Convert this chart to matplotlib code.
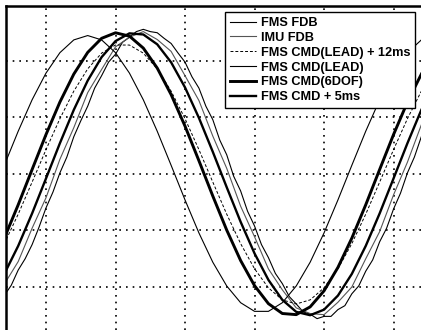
import matplotlib
matplotlib.use("Agg")
import matplotlib.pyplot as plt

# time (ms) for the command curves
t = [8, 12, 16, 20, 24, 28, 32, 36, 40, 44, 48, 52, 56, 60, 64, 68, 72, 76,
     80, 84, 88, 92, 96, 100, 104, 108, 112, 116, 120, 124, 128]

imu_fdb = [-1.95, -1.55, -0.96, -0.42, 0.26, 0.82, 1.44, 1.85, 2.25, 2.42, 2.52,
           2.38, 2.17, 1.74, 1.30, 0.67, 0.10, -0.57, -1.11, -1.68, -2.05, -2.37,
           -2.47, -2.49, -2.27, -2.00, -1.50, -1.02, -0.37, 0.21, 0.87]

cmd_lead_12 = [-1.232, -0.711, -0.144, 0.431, 0.979, 1.466, 1.861, 2.139, 2.282,
               2.282, 2.139, 1.861, 1.466, 0.979, 0.431, -0.144, -0.711, -1.232,
               -1.677, -2.015, -2.228, -2.300, -2.228, -2.015, -1.677, -1.232,
               -0.711, -0.144, 0.431, 0.979, 1.466]

cmd_lead = [0.154, 0.757, 1.313, 1.786, 2.147, 2.373, 2.450, 2.373, 2.147, 1.786,
            1.313, 0.757, 0.154, -0.459, -1.043, -1.562, -1.982, -2.278, -2.431,
            -2.431, -2.278, -1.982, -1.562, -1.043, -0.459, 0.154, 0.757, 1.313,
            1.786, 2.147, 2.373]

cmd_6dof = [-1.135, -0.545, 0.079, 0.698, 1.273, 1.768, 2.152, 2.401, 2.499, 2.440,
            2.228, 1.875, 1.405, 0.847, 0.235, -0.391, -0.993, -1.532, -1.976,
            -2.295, -2.469, -2.489, -2.352, -2.068, -1.653, -1.135, -0.545, 0.079,
            0.698, 1.273, 1.768]

cmd_5ms = [-1.768, -1.273, -0.698, -0.079, 0.545, 1.135, 1.653, 2.068, 2.352, 2.489,
           2.469, 2.295, 1.976, 1.532, 0.993, 0.391, -0.235, -0.847, -1.405, -1.875,
           -2.228, -2.440, -2.499, -2.401, -2.152, -1.768, -1.273, -0.698, -0.079,
           0.545, 1.135]

# time (ms) for the FMS feedback
t_fdb = [8, 10, 12, 14, 16, 18, 20, 22, 24, 26, 28, 30, 32, 34, 36, 38, 40, 42, 44,
         46, 48, 50, 52, 54, 56, 58, 60, 62, 64, 66, 68, 70, 72, 74, 76, 78, 80, 82,
         84, 86, 88, 90, 92, 94, 96, 98, 100, 102, 104, 106, 108, 110, 112, 114,
         116, 118, 120, 122, 124, 126, 128]

fms_fdb = [-2.15, -1.97, -1.70, -1.50, -1.25, -0.94, -0.60, -0.32, 0.02, 0.30, 0.66,
           0.94, 1.20, 1.52, 1.74, 1.98, 2.12, 2.33, 2.42, 2.52, 2.56, 2.52, 2.50,
           2.40, 2.31, 2.14, 1.98, 1.72, 1.52, 1.20, 0.96, 0.60, 0.34, -0.04, -0.30,
           -0.66, -0.92, -1.25, -1.48, -1.76, -1.94, -2.17, -2.30, -2.44, -2.48,
           -2.56, -2.52, -2.52, -2.40, -2.33, -2.12, -1.98, -1.72, -1.52, -1.20,
           -0.96, -0.62, -0.34, 0.02, 0.30, 0.66]

labels = ["FMS FDB", "IMU FDB", "FMS CMD(LEAD) + 12ms", "FMS CMD(LEAD)",
          "FMS CMD(6DOF)", "FMS CMD + 5ms"]

W, H = 421, 330
fig = plt.figure(figsize=(W / 100, H / 100), dpi=100)
fig.patch.set_facecolor("white")
ax = fig.add_axes([6 / W, 0, (W - 6) / W, (H - 6) / H])

ax.plot(t_fdb, fms_fdb, color="black", lw=0.8, label=labels[0])
ax.plot(t, imu_fdb, color="#555555", lw=0.8, label=labels[1])
ax.plot(t, cmd_lead_12, color="black", lw=0.7, ls=(0, (3, 2)), label=labels[2])
ax.plot(t, cmd_lead, color="black", lw=0.8, label=labels[3])
ax.plot(t, cmd_6dof, color="black", lw=2.1, label=labels[4])
ax.plot(t, cmd_5ms, color="black", lw=1.7, label=labels[5])

ax.set_xlim(8.49, 127.9)
ax.set_ylim(-2.761, 2.973)
ax.set_xticks([20, 40, 60, 80, 100, 120])
ax.set_yticks([-2, -1, 0, 1, 2])
ax.tick_params(length=0, labelbottom=False, labelleft=False)
ax.grid(True, color="black", lw=1.2, ls=(0, (1, 3)))
for s in ("right", "bottom"):
    ax.spines[s].set_visible(False)
for s in ("top", "left"):
    ax.spines[s].set_linewidth(1.8)
    ax.spines[s].set_color("black")

leg = ax.legend(loc="upper left", bbox_to_anchor=(225 / W, 1 - 12 / H),
                bbox_transform=fig.transFigure,
                prop={"family": "Liberation Sans", "weight": "bold", "size": 9.2},
                frameon=True, fancybox=False, edgecolor="black", framealpha=1,
                handlelength=2.0, handletextpad=0.4, labelspacing=0.22,
                borderpad=0.4, borderaxespad=0)
leg.get_frame().set_linewidth(1.0)

fig.savefig("out.png", dpi=100)
